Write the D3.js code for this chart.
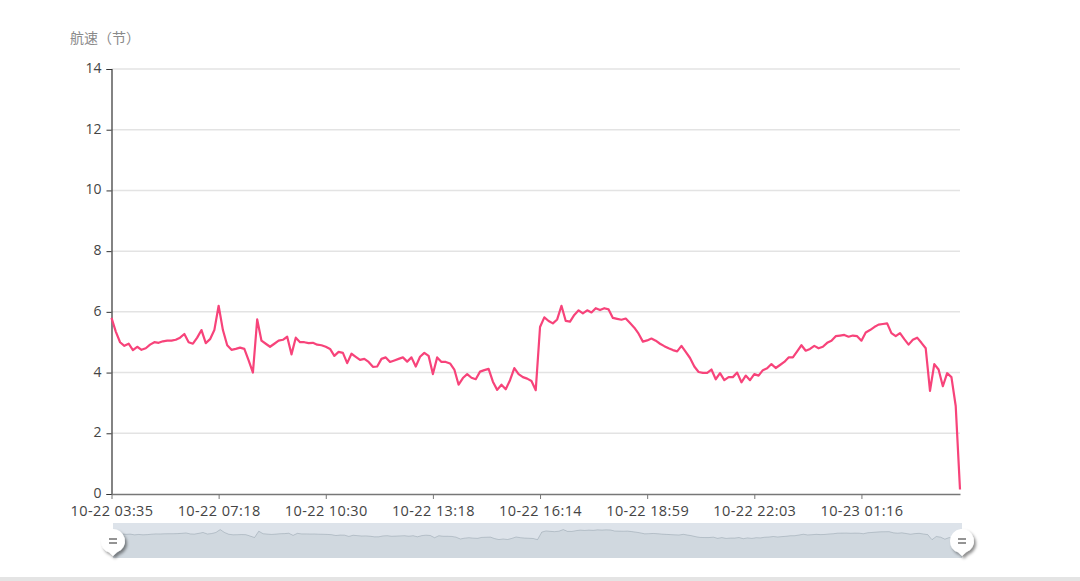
<!DOCTYPE html>
<html>
<head>
<meta charset="utf-8">
<script src="https://cdn.jsdelivr.net/npm/d3@7"></script>
<style>
  html, body { margin: 0; padding: 0; background: #fff; }
  svg { display: block; }
  text { font-family: "Open Sans", "Noto Sans", "Noto Sans CJK SC", sans-serif; }
</style>
</head>
<body>
<svg id="chart" width="1080" height="581"></svg>
<script>
// ---- data ----
const axisName = "航速（节）";
const tickLabels = ["10-22 03:35", "10-22 07:18", "10-22 10:30", "10-22 13:18",
                    "10-22 16:14", "10-22 18:59", "10-22 22:03", "10-23 01:16"];
const labelEvery = 25; // a category label every 25 samples
const yTicks = [0, 2, 4, 6, 8, 10, 12, 14];
const speeds = [
  5.8, 5.35, 5.0, 4.88, 4.95, 4.74, 4.85, 4.75, 4.8, 4.92,
  5.0, 4.98, 5.03, 5.05, 5.05, 5.08, 5.15, 5.27, 5.0, 4.95,
  5.15, 5.4, 4.97, 5.1, 5.4, 6.2, 5.4, 4.9, 4.75, 4.78,
  4.82, 4.78, 4.4, 4.0, 5.75, 5.05, 4.95, 4.85, 4.95, 5.05,
  5.08, 5.18, 4.6, 5.15, 5.0, 5.0, 4.97, 4.98, 4.92, 4.9,
  4.85, 4.78, 4.55, 4.68, 4.65, 4.31, 4.62, 4.52, 4.42, 4.45,
  4.35, 4.19, 4.2, 4.45, 4.5, 4.35, 4.4, 4.45, 4.5, 4.36,
  4.5, 4.2, 4.52, 4.65, 4.55, 3.95, 4.5, 4.35, 4.35, 4.3,
  4.1, 3.6, 3.82, 3.95, 3.83, 3.78, 4.03, 4.08, 4.12, 3.7,
  3.43, 3.6, 3.45, 3.75, 4.15, 3.95, 3.85, 3.8, 3.72, 3.42,
  5.5, 5.82, 5.7, 5.62, 5.75, 6.2, 5.7, 5.68, 5.9, 6.05,
  5.95, 6.05, 5.98, 6.12, 6.06, 6.12, 6.08, 5.8, 5.77, 5.74,
  5.78, 5.63, 5.48, 5.28, 5.02, 5.06, 5.12, 5.05, 4.95, 4.87,
  4.8, 4.74, 4.7, 4.88, 4.68, 4.48, 4.2, 4.02, 3.99, 3.99,
  4.1, 3.78, 3.98, 3.75, 3.85, 3.85, 4.0, 3.68, 3.9, 3.75,
  3.95, 3.9, 4.08, 4.14, 4.28, 4.15, 4.25, 4.35, 4.5, 4.5,
  4.7, 4.9, 4.72, 4.78, 4.88, 4.8, 4.85, 4.98, 5.05, 5.2,
  5.22, 5.24, 5.18, 5.22, 5.2, 5.05, 5.32, 5.4, 5.5, 5.58,
  5.6, 5.62, 5.3, 5.2, 5.3, 5.1, 4.92, 5.08, 5.15, 4.98,
  4.8, 3.4, 4.28, 4.1, 3.55, 3.98, 3.85, 2.9, 0.15
];

// ---- layout ----
const svg = d3.select("#chart");
const pLeft = 111.5, pRight = 960, pTop = 69, pBottom = 494;
const n = speeds.length;
const idx = d3.range(n);

const x = d3.scaleLinear().domain([0, n - 1]).range([pLeft, pRight]);
const y = d3.scaleLinear().domain([0, 14]).range([pBottom, pTop]);

const defs = svg.append("defs");
const f = defs.append("filter").attr("id", "shadow").attr("x", "-50%").attr("y", "-50%").attr("width", "200%").attr("height", "200%");
f.append("feDropShadow").attr("dx", 2).attr("dy", 2.5).attr("stdDeviation", 1.6).attr("flood-color", "#000").attr("flood-opacity", 0.45);

// grid lines
svg.append("g").selectAll("line").data(yTicks.filter(d => d > 0)).join("line")
  .attr("x1", pLeft).attr("x2", pRight)
  .attr("y1", d => y(d)).attr("y2", d => y(d))
  .attr("stroke", "#e3e3e3").attr("stroke-width", 1.5);

// axis name
svg.append("text").attr("x", 70).attr("y", 43).text(axisName)
  .attr("font-family", "'Noto Sans CJK SC', sans-serif")
  .attr("font-size", 14).attr("fill", "#8a8a8a");

// y axis
const yAxis = svg.append("g").attr("transform", `translate(${pLeft},0)`)
  .call(d3.axisLeft(y).tickValues(yTicks).tickSize(5).tickPadding(5));
yAxis.select(".domain").attr("stroke", "#333").attr("stroke-width", 1.2);
yAxis.selectAll(".tick line").attr("stroke", "#333");
yAxis.selectAll(".tick text").attr("font-size", 14).attr("fill", "#444")
  .attr("dy", "0.25em")
  .attr("font-family", "'Open Sans', sans-serif");

// x axis
const tickIdx = tickLabels.map((_, i) => i * labelEvery);
const xAxis = svg.append("g").attr("transform", `translate(0,${pBottom})`)
  .call(d3.axisBottom(x).tickValues(tickIdx).tickFormat((d, i) => tickLabels[i]).tickSize(5).tickSizeOuter(0).tickPadding(7));
xAxis.select(".domain").attr("stroke", "#777").attr("stroke-width", 1.5);
xAxis.selectAll(".tick line").attr("stroke", "#777");
xAxis.selectAll(".tick text").attr("font-size", 14.5).attr("fill", "#444")
  .attr("letter-spacing", 0.4)
  .attr("font-family", "'Open Sans', sans-serif");

// line
svg.append("path").datum(idx)
  .attr("d", d3.line().x(i => x(i)).y(i => y(speeds[i])))
  .attr("fill", "none").attr("stroke", "#f7437a").attr("stroke-width", 2.2)
  .attr("stroke-linejoin", "round");

// ---- data zoom slider ----
const sTop = 523, sBot = 558, sLeft = 113, sRight = 962;
const ext = d3.extent(speeds);
const off = (ext[1] - ext[0]) * 0.3;
const xs = d3.scaleLinear().domain([0, n - 1]).range([sLeft, sRight]);
const ys = d3.scaleLinear().domain([ext[0] - off, ext[1] + off]).range([sBot, sTop]);

svg.append("rect").attr("x", sLeft).attr("y", sTop).attr("width", sRight - sLeft).attr("height", sBot - sTop)
  .attr("fill", "#dde3ea");
svg.append("path").datum(idx)
  .attr("d", d3.area().x(i => xs(i)).y0(sBot).y1(i => ys(speeds[i])))
  .attr("fill", "rgba(47,69,84,0.07)");
svg.append("path").datum(idx)
  .attr("d", d3.line().x(i => xs(i)).y(i => ys(speeds[i])))
  .attr("fill", "none").attr("stroke", "rgba(47,69,84,0.25)").attr("stroke-width", 0.8);

[sLeft, sRight].forEach(cx => {
  const g = svg.append("g").attr("transform", `translate(${cx},${541})`);
  g.append("path").attr("d", "M-12,0 A12,12 0 1,1 4,11.3 L-0,15 L-4,11.3 A12,12 0 0,1 -12,0 Z")
    .attr("fill", "#fff").attr("filter", "url(#shadow)");
  g.append("line").attr("x1", -4).attr("x2", 4).attr("y1", -2).attr("y2", -2).attr("stroke", "#666").attr("stroke-width", 1.4);
  g.append("line").attr("x1", -4).attr("x2", 4).attr("y1", 2).attr("y2", 2).attr("stroke", "#666").attr("stroke-width", 1.4);
});

// bottom band
svg.append("rect").attr("x", 0).attr("y", 577).attr("width", 1080).attr("height", 4).attr("fill", "#e4e4e4");
</script>
</body>
</html>
